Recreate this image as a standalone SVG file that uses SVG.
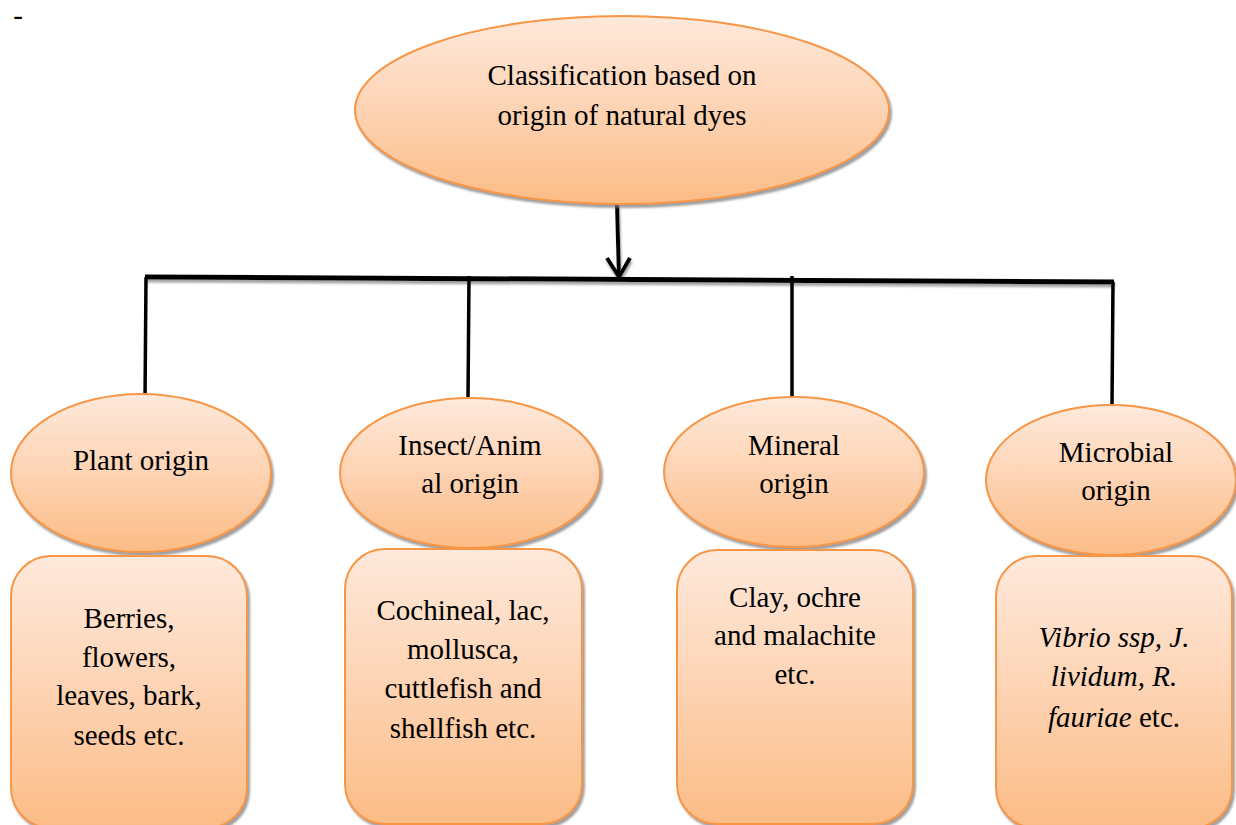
<svg xmlns="http://www.w3.org/2000/svg" width="1236" height="825" viewBox="0 0 1236 825">
<defs>
<linearGradient id="g" x1="0" y1="0" x2="0" y2="1">
<stop offset="0" stop-color="#FEE9DB"/>
<stop offset="0.5" stop-color="#FDD3B3"/>
<stop offset="1" stop-color="#FCBC86"/>
</linearGradient>
<filter id="sh" x="-10%" y="-10%" width="120%" height="130%">
<feDropShadow dx="2" dy="3" stdDeviation="1" flood-color="#7f7f7f" flood-opacity="0.75"/>
</filter>
<filter id="lsh" x="-5%" y="-50%" width="110%" height="300%">
<feDropShadow dx="1" dy="3" stdDeviation="1" flood-color="#7f7f7f" flood-opacity="0.7"/>
</filter>
</defs>
<style>
.shape{fill:url(#g);stroke:#F79646;stroke-width:2;filter:url(#sh)}
.t{font-family:'Liberation Serif','DejaVu Serif',serif;font-size:29px;fill:#000;text-anchor:middle}
.ln{stroke:#000;fill:none;stroke-linecap:butt}
</style>
<rect width="1236" height="825" fill="#fff"/>
<text x="18" y="25" class="t" font-family="Liberation Serif, serif">-</text>

<g id="connectors">
<g filter="url(#lsh)">
<line class="ln" x1="145" y1="277" x2="1114" y2="282" stroke-width="5"/>
<line class="ln" x1="617" y1="204" x2="619" y2="277" stroke-width="4"/>
<polyline class="ln" points="607,258 619,277 630,258" stroke-width="4"/>
</g>
<line class="ln" x1="146" y1="277" x2="145" y2="401" stroke-width="3.5"/>
<line class="ln" x1="469" y1="276" x2="468" y2="399" stroke-width="3.5"/>
<line class="ln" x1="792" y1="276" x2="792" y2="399" stroke-width="3.5"/>
<line class="ln" x1="1113" y1="282" x2="1112" y2="405" stroke-width="3.5"/>
</g>

<g id="root" font-family="Liberation Serif, serif">
<ellipse class="shape" cx="622" cy="110" rx="267" ry="94"/>
<text class="t" x="622" y="85">Classification based on</text>
<text class="t" x="622" y="125">origin of natural dyes</text>
</g>

<g id="plant">
<ellipse class="shape" cx="141" cy="473" rx="130" ry="79"/>
<text class="t" x="141" y="470">Plant origin</text>
</g>
<g id="plant-examples">
<rect class="shape" x="11" y="556" width="236" height="272" rx="40" ry="40"/>
<text class="t" x="129" y="628">Berries,</text>
<text class="t" x="129" y="667">flowers,</text>
<text class="t" x="129" y="705">leaves, bark,</text>
<text class="t" x="129" y="745">seeds etc.</text>
</g>

<g id="animal">
<ellipse class="shape" cx="470" cy="473" rx="130" ry="75"/>
<text class="t" x="470" y="455">Insect/Anim</text>
<text class="t" x="470" y="493">al origin</text>
</g>
<g id="animal-examples">
<rect class="shape" x="345" y="549" width="237" height="275" rx="40" ry="40"/>
<text class="t" x="463" y="620">Cochineal, lac,</text>
<text class="t" x="463" y="659">mollusca,</text>
<text class="t" x="463" y="698">cuttlefish and</text>
<text class="t" x="463" y="738">shellfish etc.</text>
</g>

<g id="mineral">
<ellipse class="shape" cx="794" cy="472" rx="130" ry="75"/>
<text class="t" x="794" y="455">Mineral</text>
<text class="t" x="794" y="493">origin</text>
</g>
<g id="mineral-examples">
<rect class="shape" x="677" y="550" width="236" height="274" rx="40" ry="40"/>
<text class="t" x="795" y="607">Clay, ochre</text>
<text class="t" x="795" y="645">and malachite</text>
<text class="t" x="795" y="684">etc.</text>
</g>

<g id="microbial">
<ellipse class="shape" cx="1111" cy="480" rx="125" ry="75"/>
<text class="t" x="1116" y="462">Microbial</text>
<text class="t" x="1116" y="500">origin</text>
</g>
<g id="microbial-examples">
<rect class="shape" x="996" y="556" width="236" height="272" rx="40" ry="40"/>
<text class="t" x="1114" y="647"><tspan font-style="italic">Vibrio ssp, J.</tspan></text>
<text class="t" x="1114" y="686"><tspan font-style="italic">lividum, R.</tspan></text>
<text class="t" x="1114" y="727"><tspan font-style="italic">fauriae</tspan> etc.</text>
</g>
</svg>
